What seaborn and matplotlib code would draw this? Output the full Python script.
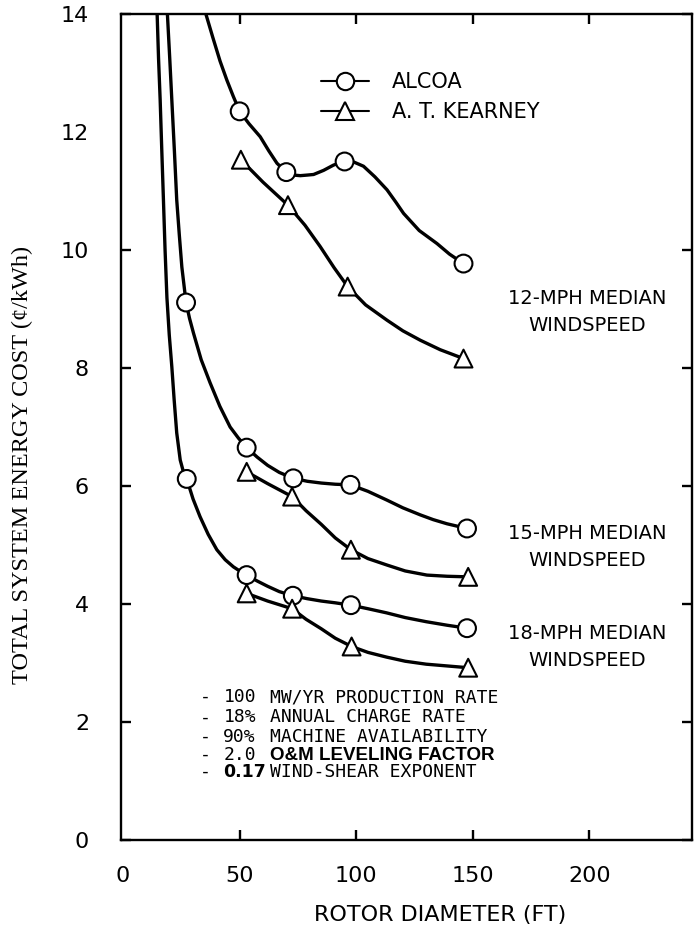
import pandas as pd
import matplotlib
matplotlib.use("Agg")
import matplotlib.pyplot as plt
from matplotlib.lines import Line2D
import seaborn as sns

# marker points (rotor diameter ft, cents/kWh)
alcoa_12_x = [50, 70, 95, 146]
alcoa_12_y = [12.35, 11.32, 11.5, 9.77]
kearney_12_x = [50.5, 70.7, 96.3, 146]
kearney_12_y = [11.53, 10.76, 9.38, 8.16]

alcoa_15_x = [27, 53, 73, 97.5, 147.5]
alcoa_15_y = [9.11, 6.65, 6.13, 6.02, 5.28]
kearney_15_x = [53, 72.5, 97.7, 148]
kearney_15_y = [6.24, 5.82, 4.92, 4.46]

alcoa_18_x = [27.3, 53, 72.8, 97.7, 147.5]
alcoa_18_y = [6.12, 4.49, 4.14, 3.98, 3.59]
kearney_18_x = [53, 72.5, 98, 148]
kearney_18_y = [4.18, 3.92, 3.28, 2.92]

# hand-drawn curve paths
curve_a12_x = [35.5, 38.5, 41.6, 44.5, 47.3, 50, 54, 58.8, 62.5, 66, 70, 73, 76, 79, 81.7, 86, 90.3, 95,
               99, 103.1, 108, 113.2, 117, 120.3, 127, 134.6, 140, 146]
curve_a12_y = [14.0, 13.6, 13.2, 12.88, 12.6, 12.35, 12.14, 11.92, 11.68, 11.47, 11.32, 11.27, 11.26, 11.27, 11.28,
               11.35, 11.44, 11.5, 11.49, 11.42, 11.24, 11.02, 10.81, 10.62, 10.33, 10.11, 9.93, 9.77]
curve_k12_x = [50.5, 60, 70.7, 78, 84.5, 90.5, 96.3, 104, 113.2, 120, 127.5, 136, 146]
curve_k12_y = [11.53, 11.15, 10.76, 10.42, 10.06, 9.7, 9.38, 9.07, 8.81, 8.63, 8.47, 8.31, 8.16]

curve_a15_x = [19.0, 20.0, 20.9, 22.0, 23.0, 24.1, 25.2, 27, 28.5, 30.2, 33.5, 37.3, 41.5, 45.9, 49.5, 53, 57.5, 62,
               67, 73, 79, 85, 91, 97.5, 105, 113.2, 120, 127.5, 133, 138.9, 147.5]
curve_a15_y = [14.0, 13.25, 12.54, 11.68, 10.85, 10.26, 9.71, 9.11, 8.84, 8.59, 8.14, 7.75, 7.35, 7.0, 6.81, 6.65, 6.49,
               6.35, 6.23, 6.13, 6.08, 6.05, 6.03, 6.02, 5.91, 5.76, 5.63, 5.51, 5.43, 5.36, 5.28]
curve_k15_x = [53, 62, 72.5, 78.5, 85, 91, 97.7, 105, 113.2, 121, 130.3, 139, 148]
curve_k15_y = [6.24, 6.04, 5.82, 5.58, 5.35, 5.12, 4.92, 4.77, 4.66, 4.56, 4.49, 4.47, 4.46]

curve_a18_x = [14.6, 15.2, 15.9, 16.6, 17.3, 18.0, 18.8, 19.8, 20.9, 21.9, 23.0, 24.5, 25.8, 27.3, 30, 33, 36.5, 40.2,
               43.8, 47.3, 50, 53, 57.5, 62, 67, 72.8, 79, 85, 91, 97.7, 105, 113, 121, 130, 139, 147.5]
curve_a18_y = [14.0, 13.25, 12.54, 11.68, 10.85, 10.0, 9.19, 8.56, 8.02, 7.46, 6.9, 6.44, 6.25, 6.12, 5.78, 5.48, 5.18,
               4.92, 4.75, 4.63, 4.56, 4.49, 4.39, 4.3, 4.21, 4.14, 4.09, 4.05, 4.02, 3.98, 3.92, 3.85, 3.77, 3.7, 3.64, 3.59]
curve_k18_x = [53, 62, 72.5, 78.5, 85, 91, 98, 105, 113, 121, 130, 139, 148]
curve_k18_y = [4.18, 4.05, 3.92, 3.74, 3.58, 3.42, 3.28, 3.18, 3.1, 3.03, 2.98, 2.95, 2.92]

sources = ["ALCOA", "A. T. KEARNEY"]
x_ticks = [0, 50, 100, 150, 200]
y_ticks = [0, 2, 4, 6, 8, 10, 12, 14]
notes = [("-", "100", "MW/YR PRODUCTION RATE", False, False),
         ("-", "18%", "ANNUAL CHARGE RATE", False, False),
         ("-", "90%", "MACHINE AVAILABILITY", False, False),
         ("-", "2.0", "O&M LEVELING FACTOR", False, True),
         ("-", "0.17", "WIND-SHEAR EXPONENT", True, False)]

# build tables
pts = []
for src, wind, xs, ys in [("ALCOA", 12, alcoa_12_x, alcoa_12_y), ("A. T. KEARNEY", 12, kearney_12_x, kearney_12_y),
                          ("ALCOA", 15, alcoa_15_x, alcoa_15_y), ("A. T. KEARNEY", 15, kearney_15_x, kearney_15_y),
                          ("ALCOA", 18, alcoa_18_x, alcoa_18_y), ("A. T. KEARNEY", 18, kearney_18_x, kearney_18_y)]:
    pts.append(pd.DataFrame({"x": xs, "y": ys, "source": src, "wind": wind}))
pts = pd.concat(pts, ignore_index=True)

curves = []
for name, xs, ys in [("a12", curve_a12_x, curve_a12_y), ("k12", curve_k12_x, curve_k12_y),
                     ("a15", curve_a15_x, curve_a15_y), ("k15", curve_k15_x, curve_k15_y),
                     ("a18", curve_a18_x, curve_a18_y), ("k18", curve_k18_x, curve_k18_y)]:
    curves.append(pd.DataFrame({"x": xs, "y": ys, "curve": name}))
curves = pd.concat(curves, ignore_index=True)

sns.set_style("ticks")
plt.rcParams["font.family"] = ["DejaVu Sans"]
plt.rcParams["text.color"] = "black"
plt.rcParams["axes.labelcolor"] = "black"
plt.rcParams["xtick.color"] = "black"
plt.rcParams["ytick.color"] = "black"

fig = plt.figure(figsize=(6.94, 9.26), dpi=100)
ax = fig.add_axes([121 / 694, 86 / 926, 571 / 694, 826 / 926])

sns.lineplot(data=curves, x="x", y="y", units="curve", estimator=None, sort=False,
             color="black", linewidth=2.4, ax=ax, legend=False, zorder=2)
sns.scatterplot(data=pts, x="x", y="y", style="source", markers={"ALCOA": "o", "A. T. KEARNEY": "^"},
                color="white", edgecolor="black", linewidth=1.5, s=165, ax=ax, legend=False, zorder=3)

ax.set_xlim(-0.9, 244)
ax.set_ylim(0, 14)
ax.set_xticks(x_ticks)
ax.set_yticks(y_ticks)
for s in ax.spines.values():
    s.set_linewidth(1.7)
    s.set_color("black")
ax.tick_params(axis="both", direction="in", length=7, width=1.7, top=True, right=True,
               labelsize=16, labelcolor="black")
ax.tick_params(axis="y", pad=23)
ax.tick_params(axis="x", pad=19)
# no tick marks at the frame corners
for t in ax.yaxis.get_major_ticks():
    if t.get_loc() in (0, 14):
        t.tick1line.set_visible(False)
        t.tick2line.set_visible(False)
for t in ax.xaxis.get_major_ticks():
    if t.get_loc() == 0:
        t.tick1line.set_visible(False)
        t.tick2line.set_visible(False)

ax.set_xlabel("ROTOR DIAMETER (FT)", fontsize=16)
ax.xaxis.set_label_coords(0.559, -0.091)
ax.xaxis.label.set_va("center")
ax.set_ylabel("TOTAL SYSTEM ENERGY COST (\u00a2/kWh)", fontsize=17.5, family=["Liberation Serif", "DejaVu Serif"])
ax.yaxis.set_label_coords(-0.173, 0.454)
ax.yaxis.label.set_va("center")

# legend
handles = [Line2D([], [], color="black", lw=1.5, marker="o", ms=12.5, mfc="white", mec="black", mew=1.5),
           Line2D([], [], color="black", lw=1.5, marker="^", ms=13, mfc="white", mec="black", mew=1.5)]
ax.legend(handles, sources, loc="upper left", bbox_to_anchor=(0.35, 0.93), frameon=False,
          prop=dict(size=15), handlelength=2.3, handletextpad=1.1,
          labelspacing=0.5, borderpad=0, borderaxespad=0)

# windspeed labels
for wind, yc in [(12, 8.95), (15, 4.97), (18, 3.27)]:
    ax.text(199, yc, f"{wind}-MPH MEDIAN\nWINDSPEED", ha="center", va="center",
            fontsize=14, linespacing=1.5)

# assumption notes
note_y = [2.42, 2.08, 1.75, 1.44, 1.15]
for (dash, num, words, bnum, bwords), yy in zip(notes, note_y):
    ax.text(33, yy, dash, va="center", fontsize=13, family="DejaVu Sans Mono")
    ax.text(43, yy, num, va="center", fontsize=13 if not bnum else 12.5,
            family="DejaVu Sans Mono" if not bnum else "DejaVu Sans",
            fontweight="bold" if bnum else "normal")
    ax.text(63, yy, words, va="center", fontsize=13 if not bwords else 13.5,
            family="DejaVu Sans Mono" if not bwords else "Liberation Sans",
            fontweight="bold" if bwords else "normal")

fig.savefig("out.png", dpi=100)
